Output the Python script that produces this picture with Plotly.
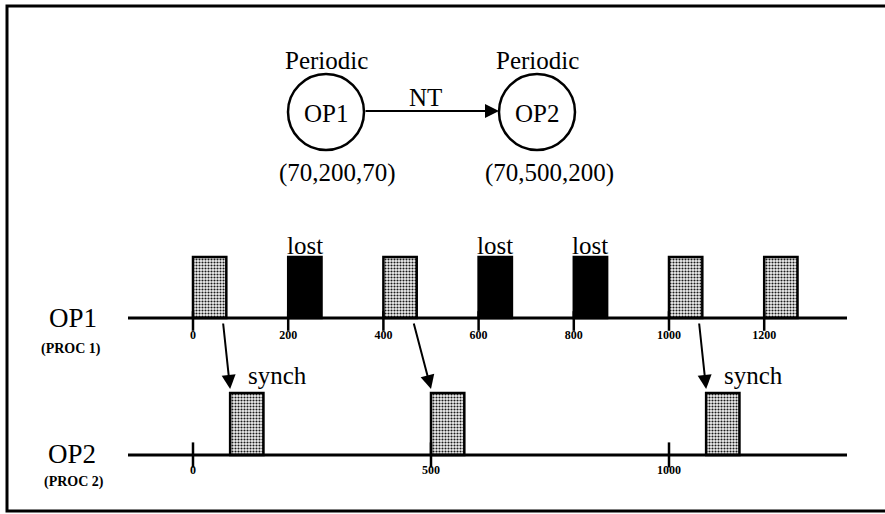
import plotly.graph_objects as go

# ---- data ----
op1_release = [0, 200, 400, 600, 800, 1000, 1200]
op1_status = ["ok", "lost", "ok", "lost", "lost", "ok", "ok"]
op1_duration = 70
op2_start = [78, 500, 1078]
op2_duration = 70
sync_source = [0, 2, 5]          # OP1 instance that triggers each OP2 instance
op1_ticks = [0, 200, 400, 600, 800, 1000, 1200]
op2_ticks = [0, 500, 1000]
op1_params = "(70,200,70)"
op2_params = "(70,500,200)"

W, H = 885, 514
X0PX, SCALE = 193, 0.476          # pixel of time 0, pixels per time unit
AX_L, AX_R = 128, 847             # axis line extent (px)
Y_OP1, Y_OP2 = 318, 455           # axis y (px)
FONT = "Liberation Serif"

def px2t(p):
    return (p - X0PX) / SCALE

fig = go.Figure()

pattern = dict(shape=".", size=3, solidity=0.4, fgcolor="#1a1a1a", bgcolor="#f2f2f2", fillmode="replace")

# OP1 bars
ok_x = [r for r, s in zip(op1_release, op1_status) if s == "ok"]
lost_x = [r for r, s in zip(op1_release, op1_status) if s == "lost"]
fig.add_trace(go.Bar(orientation="h", base=ok_x, x=[op1_duration] * len(ok_x),
                     y=[(Y_OP1 + 257) / 2] * len(ok_x), width=[Y_OP1 - 257] * len(ok_x),
                     marker=dict(color="white", pattern=pattern, line=dict(color="black", width=2.5)),
                     xaxis="x", yaxis="y", hoverinfo="skip"))
fig.add_trace(go.Bar(orientation="h", base=lost_x, x=[op1_duration] * len(lost_x),
                     y=[(Y_OP1 + 257) / 2] * len(lost_x), width=[Y_OP1 - 257] * len(lost_x),
                     marker=dict(color="black", line=dict(color="black", width=2.5)),
                     xaxis="x", yaxis="y", hoverinfo="skip"))
# OP2 bars
fig.add_trace(go.Bar(orientation="h", base=op2_start, x=[op2_duration] * len(op2_start),
                     y=[(Y_OP2 + 393) / 2] * len(op2_start), width=[Y_OP2 - 393] * len(op2_start),
                     marker=dict(color="white", pattern=pattern, line=dict(color="black", width=2.5)),
                     xaxis="x", yaxis="y", hoverinfo="skip"))

# axis lines
for yy in (Y_OP1, Y_OP2):
    fig.add_trace(go.Scatter(x=[px2t(AX_L), px2t(AX_R)], y=[yy, yy], mode="lines",
                             line=dict(color="black", width=3), xaxis="x", yaxis="y", hoverinfo="skip"))

# tick marks (on their own axes, which also carry the tick labels)
fig.add_trace(go.Scatter(x=op1_ticks, y=[Y_OP1 + 3] * len(op1_ticks), mode="markers",
                         marker=dict(symbol="line-ns-open", size=14, color="black",
                                     line=dict(color="black", width=2.5)),
                         xaxis="x2", yaxis="y", hoverinfo="skip"))
fig.add_trace(go.Scatter(x=op2_ticks, y=[Y_OP2] * len(op2_ticks), mode="markers",
                         marker=dict(symbol="line-ns-open", size=18, color="black",
                                     line=dict(color="black", width=2.5)),
                         xaxis="x3", yaxis="y", hoverinfo="skip"))

rng_full = [px2t(0), px2t(W)]
tickfont = dict(family=FONT, size=12, color="black", weight="bold")

annotations = []
BIG = 25
# "lost" labels
for r in lost_x:
    annotations.append(dict(x=r + op1_duration / 2, y=245, xref="x", yref="y", text="lost",
                            xanchor="center", yanchor="middle",
                            showarrow=False, font=dict(family=FONT, size=BIG, color="black")))
# sync arrows + labels
for src, st in zip(sync_source, op2_start):
    annotations.append(dict(x=st, y=389, xref="x", yref="y",
                            ax=op1_release[src] + op1_duration - 7, ay=322, axref="x", ayref="y",
                            showarrow=True, arrowhead=2, arrowsize=1.4, arrowwidth=2, arrowcolor="black",
                            text=""))
for st in [op2_start[0], op2_start[2]]:
    annotations.append(dict(x=st + 34, y=375, xref="x", yref="y", text="synch",
                            xanchor="left", yanchor="middle",
                            showarrow=False, font=dict(family=FONT, size=BIG, color="black")))

def pa(x, y, text, size, bold=False):
    f = dict(family=FONT, size=size, color="black")
    if bold:
        f["weight"] = "bold"
    annotations.append(dict(x=x / W, y=1 - y / H, xref="paper", yref="paper", text=text,
                            xanchor="center", yanchor="middle", showarrow=False, font=f))

# row labels
pa(73, 318, "OP1", 27)
pa(71, 349, "(PROC 1)", 14, bold=True)
pa(72, 454, "OP2", 27)
pa(74, 482, "(PROC 2)", 14, bold=True)

# graph at top
C1, C2, CY, R = (326, 537, 112, 38)
pa(C1, 60, "Periodic", BIG)
pa(C2, 60, "Periodic", BIG)
pa(C1, 113, "OP1", BIG)
pa(C2, 113, "OP2", BIG)
pa(425, 97, "NT", BIG)
pa(337, 173, op1_params, BIG)
pa(549, 173, op2_params, BIG)
annotations.append(dict(x=(C2 - R) / W, y=1 - 111 / H, xref="paper", yref="paper",
                        ax=(C1 + R) - (C2 - R), ay=0, axref="pixel", ayref="pixel",
                        showarrow=True, arrowhead=2, arrowsize=1.4, arrowwidth=2, arrowcolor="black", text=""))

# frame: left, top and bottom edges (the right edge lies outside the picture)
xl, yt, yb = 7 / W, 1 - 6 / H, 1 - 511 / H
shapes = [
    dict(type="path", xref="paper", yref="paper",
         path=f"M 1.05,{yt} L {xl},{yt} L {xl},{yb} L 1.05,{yb}",
         line=dict(color="black", width=3)),
    dict(type="circle", xref="paper", yref="paper", x0=(C1 - R) / W, x1=(C1 + R) / W,
         y0=1 - (CY + R) / H, y1=1 - (CY - R) / H, line=dict(color="black", width=2.5)),
    dict(type="circle", xref="paper", yref="paper", x0=(C2 - R) / W, x1=(C2 + R) / W,
         y0=1 - (CY + R) / H, y1=1 - (CY - R) / H, line=dict(color="black", width=2.5)),
]

common = dict(range=rng_full, domain=[0, 1], showgrid=False, zeroline=False, ticks="",
              fixedrange=True, tickfont=tickfont, showline=False)
fig.update_layout(
    width=W, height=H, margin=dict(l=0, r=0, t=0, b=0),
    paper_bgcolor="white", plot_bgcolor="white", showlegend=False, barmode="overlay",
    xaxis=dict(range=rng_full, domain=[0, 1], visible=False, fixedrange=True),
    xaxis2=dict(common, overlaying="x", anchor="free", position=1 - Y_OP1 / H,
                tickvals=op1_ticks, ticktext=[str(t) for t in op1_ticks], ticklabelstandoff=8),
    xaxis3=dict(common, overlaying="x", anchor="free", position=1 - Y_OP2 / H,
                tickvals=op2_ticks, ticktext=[str(t) for t in op2_ticks], ticklabelstandoff=6),
    yaxis=dict(range=[H, 0], domain=[0, 1], visible=False, fixedrange=True),
    annotations=annotations, shapes=shapes,
)

fig.write_html("out.html", config={"displayModeBar": False},
               post_script="document.body.style.margin='0';")
